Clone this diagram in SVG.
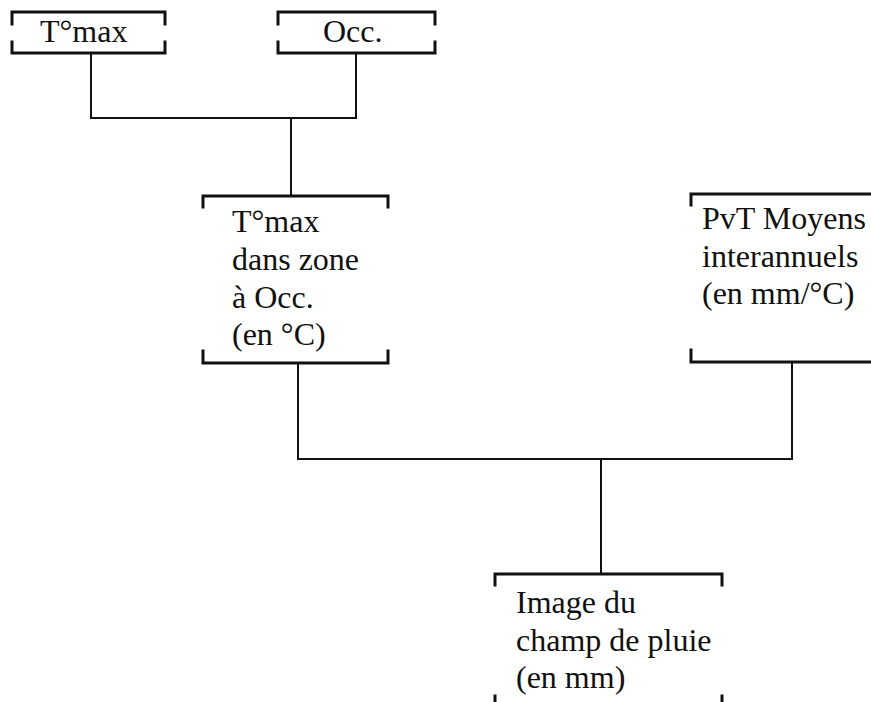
<svg xmlns="http://www.w3.org/2000/svg" width="871" height="702" viewBox="0 0 871 702">
<style>
.box{fill:none;stroke:#111;stroke-width:3;stroke-linecap:square;stroke-linejoin:miter}
.conn{fill:none;stroke:#111;stroke-width:2}
.t{font-family:"Liberation Serif","Times New Roman",serif;font-size:32px;fill:#111}
</style>
<rect width="871" height="702" fill="#fff"/>
<g id="connectors">
<path class="conn" d="M91,53 V118 H356 V53"/>
<path class="conn" d="M291,118 V196"/>
<path class="conn" d="M298,363 V459 H792 V362"/>
<path class="conn" d="M601,459 V574"/>
</g>
<g id="tmax">
<path class="box" d="M12,24 V12 H165 V24 M12,42 V53 H165 V42"/>
<text class="t" x="40" y="42">T°max</text>
</g>
<g id="occ">
<path class="box" d="M278,24 V12 H435 V24 M278,42 V53 H435 V42"/>
<text class="t" x="323" y="42">Occ.</text>
</g>
<g id="tmax-zone">
<path class="box" d="M203,207 V196 H388 V207 M203,351 V363 H388 V351"/>
<text class="t" x="232" y="232">T°max</text>
<text class="t" x="232" y="270">dans zone</text>
<text class="t" x="232" y="308">à Occ.</text>
<text class="t" x="232" y="345">(en °C)</text>
</g>
<g id="pvt">
<path class="box" d="M691,205 V194 H873 M691,350 V362 H873"/>
<text class="t" x="702" y="229">PvT Moyens</text>
<text class="t" x="702" y="267">interannuels</text>
<text class="t" x="702" y="304">(en mm/°C)</text>
</g>
<g id="image">
<path class="box" d="M495,585 V574 H722 V585 M495,696 V706 H722 V696"/>
<text class="t" x="516" y="613">Image du</text>
<text class="t" x="516" y="651">champ de pluie</text>
<text class="t" x="516" y="688">(en mm)</text>
</g>
</svg>
